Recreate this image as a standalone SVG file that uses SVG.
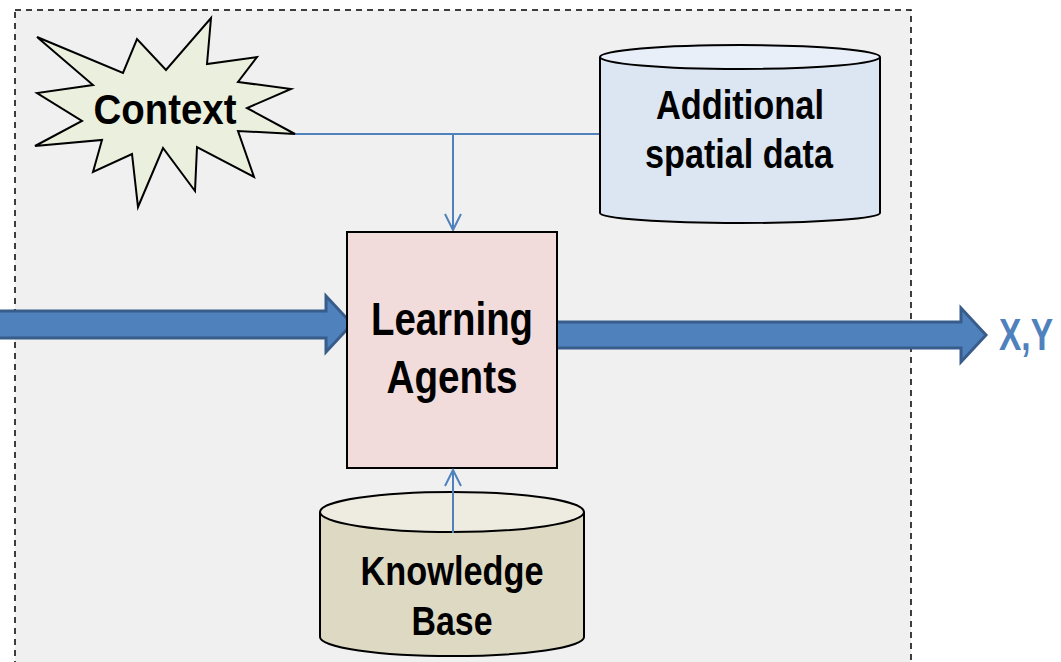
<svg xmlns="http://www.w3.org/2000/svg" width="1061" height="662" viewBox="0 0 1061 662">
<defs>
<style>
.t{font-family:"Liberation Sans Narrow","Liberation Sans",Arial,sans-serif;font-weight:bold;fill:#000;text-anchor:middle}
.conn{stroke:#4f81bd;stroke-width:2;fill:none}
.block{fill:#4f81bd;stroke:#385d8a;stroke-width:3;stroke-linejoin:miter}
.outline{stroke:#000;stroke-width:2}
</style>
<marker id="open" viewBox="0 0 20 20" refX="18" refY="10" markerWidth="20" markerHeight="20" markerUnits="userSpaceOnUse" orient="auto">
<path d="M2,2 L18,10 L2,18" fill="none" stroke="#4f81bd" stroke-width="2"/>
</marker>
</defs>
<rect x="0" y="0" width="1061" height="662" fill="#ffffff"/>
<g id="frame">
<rect x="15" y="10" width="896" height="670" fill="#f0f0f0" stroke="#000" stroke-width="1.5" stroke-dasharray="6,5"/>
</g>
<g id="connectors">
<polyline class="conn" points="295,134 600,134"/>
<line class="conn" x1="453" y1="134" x2="453" y2="230" marker-end="url(#open)"/>
<polygon class="block" points="-5,311 326,311 326,296 352,324 326,352 326,338 -5,338"/>
<polygon class="block" points="556,322 961,322 961,308 986,335 961,362 961,348 556,348"/>
</g>
<g id="context">
<polygon class="outline" fill="#ebf0de" points="37,37 123,73 137,39 166,70 211,18 207,64 257,57 238,82 291,89 247,108 295,134 238,131 254,177 197,147 195,191 163,148 138,207 132,154 93,172 102,140 35,146 82,121 37,93 93,85"/>
<text class="t" x="165" y="124" font-size="42" textLength="143" lengthAdjust="spacingAndGlyphs">Context</text>
</g>
<g id="spatial">
<path class="outline" fill="#dce6f2" d="M600,57 L600,213 A140,10 0 0 0 880,213 L880,57"/>
<ellipse class="outline" fill="#e9eff8" cx="740" cy="57" rx="140" ry="12"/>
<text class="t" x="740" y="119" font-size="40" textLength="168" lengthAdjust="spacingAndGlyphs">Additional</text>
<text class="t" x="739" y="168" font-size="40" textLength="188" lengthAdjust="spacingAndGlyphs">spatial data</text>
</g>
<g id="agents">
<rect class="outline" x="347" y="232" width="210" height="236" fill="#f2dcdb"/>
<text class="t" x="452" y="335" font-size="46" textLength="162" lengthAdjust="spacingAndGlyphs">Learning</text>
<text class="t" x="452" y="393" font-size="46" textLength="131" lengthAdjust="spacingAndGlyphs">Agents</text>
</g>
<g id="knowledge">
<path class="outline" fill="#ddd9c3" d="M320,512 L320,637 A132,19 0 0 0 584,637 L584,512"/>
<ellipse class="outline" fill="#eeece1" cx="452" cy="512" rx="132" ry="20"/>
<text class="t" x="452" y="585" font-size="40" textLength="183" lengthAdjust="spacingAndGlyphs">Knowledge</text>
<text class="t" x="452" y="635" font-size="40" textLength="81" lengthAdjust="spacingAndGlyphs">Base</text>
</g>
<g id="kb-link">
<line class="conn" x1="453" y1="533" x2="453" y2="470" marker-end="url(#open)"/>
</g>
<g id="output">
<text x="999" y="350" font-size="45" font-weight="bold" font-family="'Liberation Sans Narrow','Liberation Sans',Arial,sans-serif" fill="#4f81bd" textLength="54" lengthAdjust="spacingAndGlyphs">X,Y</text>
</g>
</svg>
